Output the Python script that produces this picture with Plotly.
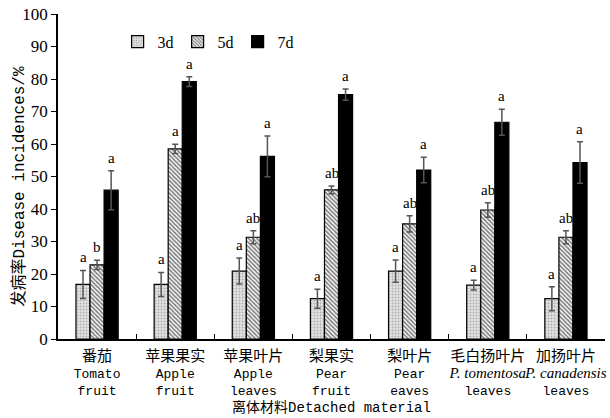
import plotly.graph_objects as go

cn_labels = ["番茄", "苹果果实", "苹果叶片", "梨果实", "梨叶片", "毛白扬叶片", "加扬叶片"]
en_line1 = ["Tomato", "Apple", "Apple", "Pear", "Pear", "P. tomentosa", "P. canadensis"]
en_line2 = ["fruit", "fruit", "leaves", "fruit", "eaves", "leaves", "leaves"]
italic_line1 = [False, False, False, False, False, True, True]
series_names = ["3d", "5d", "7d"]
values_3d = [16.8, 16.8, 20.9, 12.4, 20.9, 16.6, 12.4]
err_3d = [4.3, 3.7, 4.0, 2.9, 3.4, 1.5, 3.7]
values_5d = [22.8, 58.5, 31.3, 45.9, 35.4, 39.7, 31.3]
err_5d = [1.4, 1.4, 2.0, 1.2, 2.5, 2.2, 2.0]
values_7d = [45.8, 79.2, 56.2, 75.2, 52.0, 66.7, 54.3]
err_7d = [6.0, 1.5, 6.3, 1.7, 3.9, 4.0, 6.4]
letters_3d = ["a", "a", "a", "a", "a", "a", "a"]
letters_5d = ["b", "a", "ab", "ab", "ab", "ab", "ab"]
letters_7d = ["a", "a", "a", "a", "a", "a", "a"]
y_ticks = list(range(0, 101, 10))

serif = "Liberation Serif, Noto Sans CJK SC, serif"
mono = "Liberation Mono, Noto Sans CJK SC, monospace"

categories = []
for cn, e1, e2, it in zip(cn_labels, en_line1, en_line2, italic_line1):
    l1 = f"<span style='font-family:Liberation Serif;font-size:15px'><i>{e1}</i></span>" if it else e1
    categories.append(f"<span style='font-size:15px'>{cn}</span><br>{l1}<br>{e2}")

patterns = [
    dict(shape=".", bgcolor="#e2e2e2", fgcolor="#7a7a7a", size=3, solidity=0.3),
    dict(shape="\\", bgcolor="white", fgcolor="black", size=3, solidity=0.55),
    dict(shape="", bgcolor="black", fgcolor="black"),
]
colors = ["#e2e2e2", "white", "black"]

fig = go.Figure()
all_vals = [values_3d, values_5d, values_7d]
all_errs = [err_3d, err_5d, err_7d]
all_letters = [letters_3d, letters_5d, letters_7d]
for i, name in enumerate(series_names):
    fig.add_trace(go.Bar(
        x=categories, y=all_vals[i], name=name,
        marker=dict(color=colors[i], pattern=patterns[i], line=dict(color="black", width=1.2)),
        error_y=dict(type="data", array=all_errs[i], color="#555555", thickness=1.5, width=3),
    ))

bar_px = 14
for i in range(3):
    for j, c in enumerate(categories):
        fig.add_annotation(x=c, y=all_vals[i][j] + all_errs[i][j], xref="x", yref="y",
                           text=all_letters[i][j], showarrow=False, xshift=(i - 1) * bar_px,
                           yshift=3, yanchor="bottom", font=dict(family=serif, size=15, color="black"))

fig.add_annotation(text="发病率Disease incidences/%", xref="paper", yref="paper", x=0, y=0.5,
                   xshift=-39, yshift=-10, textangle=-90, showarrow=False,
                   xanchor="center", yanchor="middle", font=dict(family=mono, size=16, color="black"))

fig.update_layout(
    width=610, height=418,
    margin=dict(l=58, r=5, t=14, b=79),
    paper_bgcolor="white", plot_bgcolor="white",
    barmode="group", bargap=0.46, bargroupgap=0,
    showlegend=True,
    legend=dict(orientation="h", x=0.109, y=0.915, xanchor="left", yanchor="middle",
                font=dict(family=serif, size=16, color="black"), bgcolor="rgba(0,0,0,0)",
                entrywidth=15, entrywidthmode="pixels", itemwidth=30),
    font=dict(family=serif, color="black"),
)
fig.update_xaxes(
    showline=True, linecolor="black", linewidth=1.5, ticks="inside", ticklen=5,
    tickson="boundaries", tickcolor="black", showgrid=False, tickangle=0, automargin=False,
    ticklabelstandoff=5,
    tickfont=dict(family=mono, size=13, color="black"),
    title=dict(text="离体材料Detached material", font=dict(family=mono, size=14, color="black"), standoff=2),
)
fig.update_yaxes(
    range=[0, 100], tickvals=y_ticks, showline=True, linecolor="black", linewidth=1.5,
    ticks="outside", ticklen=5, tickcolor="black", showgrid=False, zeroline=False, automargin=False,
    tickfont=dict(family=serif, size=17, color="black"),
)

fig.write_html("out.html", config={"displayModeBar": False},
               post_script="document.body.style.margin='0';")
